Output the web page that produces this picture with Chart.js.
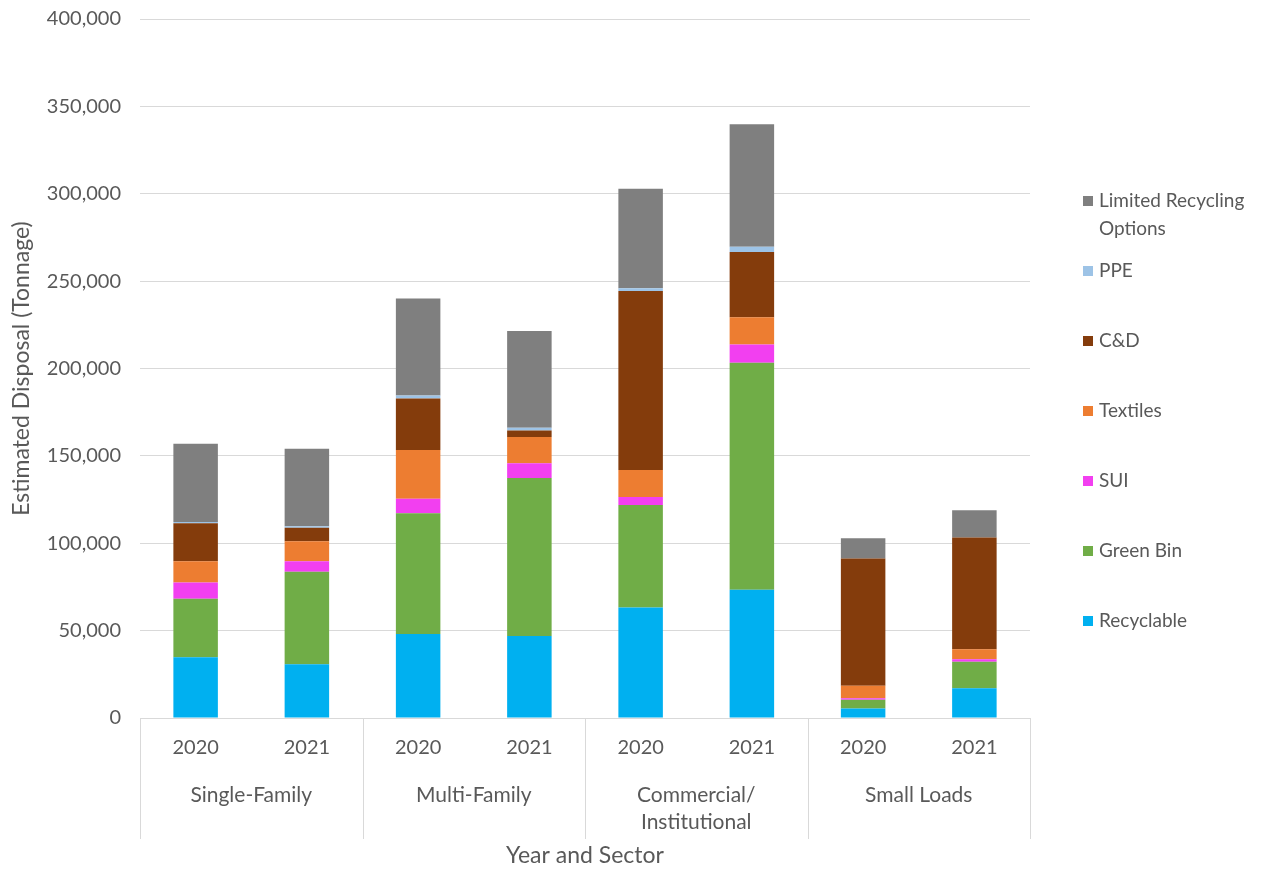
<!DOCTYPE html>
<html>
<head>
<meta charset="utf-8">
<script src="https://cdn.jsdelivr.net/npm/chart.js@4.4.1/dist/chart.umd.min.js"></script>
<style>
    html, body { margin: 0; padding: 0; background: #fff; }
    #wrap { position: relative; width: 1262px; height: 869px; }
    #legend { position: absolute; left: 1083px; top: 186px; font-family: Lato, sans-serif; font-size: 19px; color: #595959; }
    .item { height: 70px; display: flex; align-items: flex-start; line-height: 28px; }
    .box { width: 10px; height: 10px; margin: 10px 6px 0 0; flex: none; }
    .txt { width: 165px; }
</style>
</head>
<body>
<div id="wrap">
    <canvas id="disposalChart" width="1262" height="869"></canvas>
    <div id="legend"></div>
</div>
<script>
// Year under each bar, and the sector each pair of bars belongs to
const years = ['2020', '2021', '2020', '2021', '2020', '2021', '2020', '2021'];
const sectors = [['Single-Family'], ['Multi-Family'], ['Commercial/', 'Institutional'], ['Small Loads']];

// Estimated tonnage per material stream (stacked bottom to top)
const recyclable = [34700, 30800, 48100, 46900, 63300, 73400, 5500, 17000];
const greenBin   = [33600, 52900, 69000, 90400, 58600, 129900, 4900, 15200];
const sui        = [9200, 6000, 8300, 8500, 4600, 10400, 900, 1400];
const textiles   = [12200, 11500, 28000, 15000, 15400, 15600, 7100, 5700];
const cnd        = [21800, 7600, 29500, 3700, 102400, 37300, 72900, 64000];
const ppe        = [700, 900, 1600, 1600, 1600, 3000, 0, 0];
const limited    = [44700, 44400, 55600, 55400, 57000, 70100, 11500, 15600];

const series = [
    { label: 'Recyclable', data: recyclable, color: '#00b0f0' },
    { label: 'Green Bin', data: greenBin, color: '#70ad47' },
    { label: 'SUI', data: sui, color: '#f23ff0' },
    { label: 'Textiles', data: textiles, color: '#ed7d31' },
    { label: 'C&D', data: cnd, color: '#843c0c' },
    { label: 'PPE', data: ppe, color: '#9dc3e6' },
    { label: 'Limited Recycling Options', data: limited, color: '#7f7f7f' }
];

const textColor = '#595959';
const gridColor = '#d9d9d9';
const fontFamily = 'Lato, sans-serif';

// Second row of the category axis: sector names and the dividers between them
const sectorAxis = {
    id: 'sectorAxis',
    afterDraw(chart) {
        const x = chart.scales.x;
        const ctx = chart.ctx;
        const step = x.width / years.length;
        ctx.save();
        ctx.strokeStyle = gridColor;
        ctx.lineWidth = 1;
        for (let g = 0; g <= sectors.length; g++) {
            const px = Math.round(x.left + g * 2 * step) + 0.5;
            ctx.beginPath();
            ctx.moveTo(px, x.top);
            ctx.lineTo(px, x.top + 121);
            ctx.stroke();
        }
        ctx.fillStyle = textColor;
        ctx.font = '21px ' + fontFamily;
        ctx.textAlign = 'center';
        ctx.textBaseline = 'middle';
        sectors.forEach((lines, g) => {
            const cx = (x.getPixelForValue(2 * g) + x.getPixelForValue(2 * g + 1)) / 2;
            lines.forEach((line, i) => ctx.fillText(line, cx, x.top + 77 + i * 27));
        });
        ctx.restore();
    }
};

new Chart(document.getElementById('disposalChart').getContext('2d'), {
    type: 'bar',
    data: {
        labels: years,
        datasets: series.map(s => ({
            label: s.label,
            data: s.data,
            backgroundColor: s.color,
            borderWidth: 0,
            categoryPercentage: 1,
            barPercentage: 0.4
        }))
    },
    options: {
        responsive: false,
        animation: false,
        layout: { padding: { top: 19, right: 232, bottom: 0, left: 0 } },
        plugins: {
            legend: { display: false },
            tooltip: { enabled: false }
        },
        scales: {
            x: {
                stacked: true,
                grid: { display: false, drawTicks: false },
                border: { display: true, color: gridColor },
                ticks: { color: textColor, font: { family: fontFamily, size: 20 }, padding: 18, maxRotation: 0 },
                title: {
                    display: true,
                    text: 'Year and Sector',
                    color: textColor,
                    font: { family: fontFamily, size: 23 },
                    padding: { top: 0, bottom: 0 }
                },
                afterFit: s => { s.height = 151; }
            },
            y: {
                stacked: true,
                min: 0,
                max: 400000,
                grid: { color: gridColor, drawTicks: false },
                border: { display: false },
                ticks: {
                    stepSize: 50000,
                    color: textColor,
                    font: { family: fontFamily, size: 20 },
                    padding: 19,
                    callback: v => v.toLocaleString('en-US')
                },
                title: {
                    display: true,
                    text: 'Estimated Disposal (Tonnage)',
                    color: textColor,
                    font: { family: fontFamily, size: 23 },
                    padding: { top: 8, bottom: 0 }
                },
                // fixed axis width, and no extra room reserved above the top tick
                afterFit: s => { s.width = 140; s.paddingTop = 0; s.paddingBottom = 0; }
            }
        }
    },
    plugins: [sectorAxis]
});

// Legend on the right, top item is the last stacked series
const legend = document.getElementById('legend');
series.slice().reverse().forEach(s => {
    const item = document.createElement('div');
    item.className = 'item';
    item.innerHTML = '<span class="box" style="background:' + s.color + '"></span><span class="txt"></span>';
    item.querySelector('.txt').textContent = s.label;
    legend.appendChild(item);
});
</script>
</body>
</html>
